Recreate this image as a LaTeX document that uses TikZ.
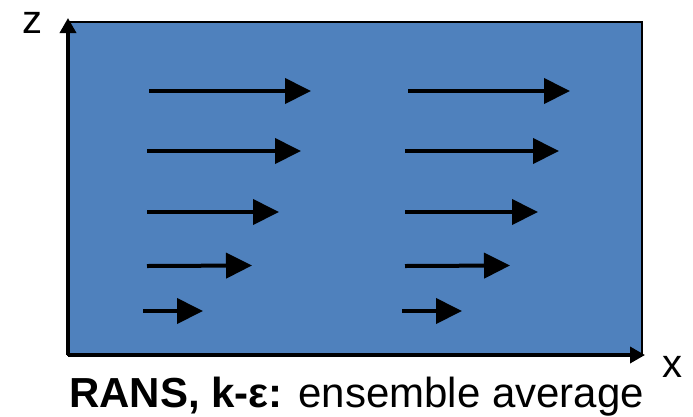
\documentclass[tikz,border=0pt]{standalone}
\usepackage{fontspec}
\setmainfont{Liberation Sans}
\usetikzlibrary{arrows.meta}
\definecolor{fieldblue}{HTML}{4F81BD}
\tikzset{
  flow/.style={line width=4pt,-{Triangle[length=26pt,width=25pt]}},
  axis/.style={line width=3.5pt,-{Triangle[length=15pt,width=16pt]}},
  lbl/.style={inner sep=0pt,anchor=base,font=\fontsize{40}{48}\selectfont},
}
\begin{document}
\begin{tikzpicture}[x=1pt,y=-1pt]
\useasboundingbox (0,0) rectangle (693,416);
% field
\filldraw[fill=fieldblue,draw=black,line width=2pt] (68,22) rectangle (642,355);
% axes
\coordinate (O) at (68,355);
\coordinate (zt) at (68,18);
\coordinate (xt) at (645,355);
\draw[axis] (O) -- (zt);
\draw[axis] (O) -- (xt);
\node[lbl] (zl) at (32.5,33) {z};
\node[lbl] (xl) at (672.5,377) {x};
% velocity arrows, left column
\coordinate (l1s) at (149,91);  \coordinate (l1e) at (311,91);
\coordinate (l2s) at (147,151); \coordinate (l2e) at (301,151);
\coordinate (l3s) at (147,212); \coordinate (l3e) at (279,212);
\coordinate (l4s) at (147,266); \coordinate (l4e) at (252,265.5);
\coordinate (l5s) at (143,311); \coordinate (l5e) at (203,311);
% right column
\coordinate (r1s) at (408,91);  \coordinate (r1e) at (570,91);
\coordinate (r2s) at (405,151); \coordinate (r2e) at (559,151);
\coordinate (r3s) at (405,212); \coordinate (r3e) at (538,212);
\coordinate (r4s) at (405,266); \coordinate (r4e) at (510,265.5);
\coordinate (r5s) at (402,311); \coordinate (r5e) at (462,311);
\foreach \i in {1,...,5}{
  \draw[flow] (l\i s) -- (l\i e);
  \draw[flow] (r\i s) -- (r\i e);
}
% caption
\node[inner sep=0pt,anchor=base,font=\fontsize{42}{50}\selectfont] (cap) at (356.5,407)
  {\textbf{RANS, k-ε:} ensemble average};
\end{tikzpicture}
\end{document}
